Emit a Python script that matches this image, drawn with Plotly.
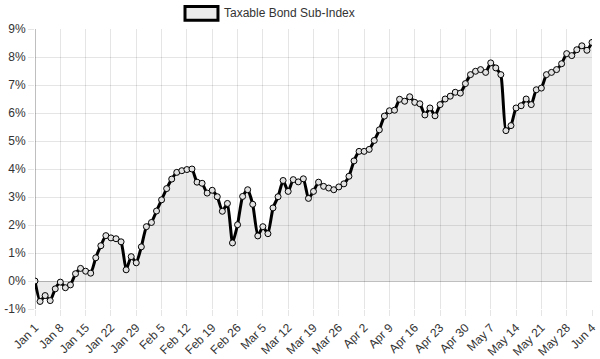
import plotly.graph_objects as go

series_name = "Taxable Bond Sub-Index"

# Business-day returns (%), Jan 1 .. Jun 4 (2018)
values = [
    0.00, -0.73, -0.52, -0.70, -0.28,
    -0.04, -0.24, -0.14, 0.26, 0.45,
    0.35, 0.28, 0.83, 1.26, 1.62,
    1.54, 1.51, 1.40, 0.40, 0.87,
    0.65, 1.22, 1.94, 2.09, 2.50,
    2.90, 3.30, 3.64, 3.88, 3.94,
    3.98, 4.00, 3.53, 3.49, 3.14,
    3.24, 3.01, 2.49, 2.77, 1.36,
    2.01, 3.02, 3.26, 2.74, 1.61,
    1.94, 1.69, 2.61, 3.01, 3.59,
    3.20, 3.62, 3.54, 3.65, 2.95,
    3.20, 3.53, 3.38, 3.32, 3.26,
    3.36, 3.47, 3.74, 4.29, 4.63,
    4.63, 4.70, 5.02, 5.40, 5.89,
    6.08, 6.10, 6.49, 6.42, 6.58,
    6.38, 6.33, 5.93, 6.18, 5.90,
    6.30, 6.50, 6.60, 6.74, 6.71,
    7.05, 7.37, 7.49, 7.55, 7.45,
    7.79, 7.61, 7.37, 5.37, 5.55,
    6.18, 6.26, 6.50, 6.30, 6.83,
    6.89, 7.37, 7.45, 7.55, 7.76,
    8.12, 8.05, 8.26, 8.40, 8.24,
    8.52,
]

tick_labels = [
    "Jan 1", "Jan 8", "Jan 15", "Jan 22", "Jan 29", "Feb 5", "Feb 12",
    "Feb 19", "Feb 26", "Mar 5", "Mar 12", "Mar 19", "Mar 26", "Apr 2",
    "Apr 9", "Apr 16", "Apr 23", "Apr 30", "May 7", "May 14", "May 21",
    "May 28", "Jun 4",
]
points_per_week = 5

y_ticks = list(range(-1, 10))

x = list(range(len(values)))
tick_positions = [i * points_per_week for i in range(len(tick_labels))]

FONT = "Liberation Sans, Arial, Helvetica, sans-serif"
GRID = "rgba(0,0,0,0.1)"

fig = go.Figure()
fig.add_trace(go.Scatter(
    x=x, y=values, mode="lines+markers", name=series_name,
    line=dict(color="#000000", width=3, shape="spline", smoothing=0.5),
    marker=dict(size=6, color="#e2e2e2", line=dict(color="#000000", width=1)),
    fill="tozeroy", fillcolor="rgba(0,0,0,0.075)",
    showlegend=False, hoverinfo="skip",
))

fig.update_layout(
    width=600, height=359,
    margin=dict(l=35, r=8, t=29, b=50),
    paper_bgcolor="white", plot_bgcolor="white",
    font=dict(family=FONT, size=12, color="#333333"),
    xaxis=dict(
        range=[0, len(values) - 1], automargin=False,
        tickmode="array", tickvals=tick_positions, ticktext=tick_labels,
        tickangle=-45, showgrid=True, gridcolor=GRID, gridwidth=1,
        zeroline=True, zerolinecolor="rgba(0,0,0,0.25)", zerolinewidth=1,
        ticks="outside", ticklen=6, tickcolor=GRID,
        showline=False, fixedrange=True,
        tickfont=dict(family=FONT, size=12, color="#333333"),
    ),
    yaxis=dict(
        range=[-1, 9], automargin=False, tickmode="array", tickvals=y_ticks,
        ticktext=[f"{v}%" for v in y_ticks],
        showgrid=True, gridcolor=GRID, gridwidth=1,
        zeroline=True, zerolinecolor="rgba(0,0,0,0.25)", zerolinewidth=1,
        ticks="outside", ticklen=6, tickcolor=GRID,
        showline=False, fixedrange=True,
        tickfont=dict(family=FONT, size=12, color="#333333"),
    ),
)

# Chart.js-style legend box + label (above plot area)
fig.add_shape(type="rect", xref="paper", yref="paper",
              x0=0.2693, x1=0.3285, y0=1.031, y1=1.080,
              line=dict(color="#000000", width=3), fillcolor="rgba(0,0,0,0.075)")
fig.add_annotation(text=series_name, xref="paper", yref="paper",
                   x=0.3357, y=1.0555, xanchor="left", yanchor="middle",
                   showarrow=False, font=dict(family=FONT, size=12, color="#333333"))

fig.write_html(
    "out.html",
    config={"displayModeBar": False},
    post_script="document.body.style.margin='0px';document.body.style.overflow='hidden';",
)
